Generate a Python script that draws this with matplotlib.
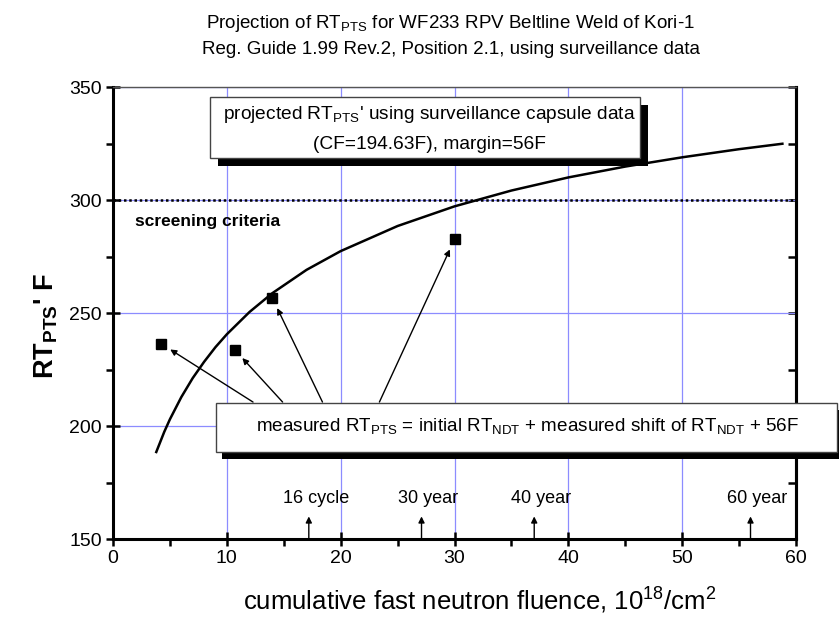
import matplotlib
matplotlib.use("Agg")
import matplotlib.pyplot as plt
import matplotlib.patches as mpatches
from matplotlib.ticker import MultipleLocator

plt.rcParams['font.family'] = ['Liberation Sans', 'DejaVu Sans']
plt.rcParams['mathtext.fontset'] = 'custom'
plt.rcParams['mathtext.rm'] = 'Liberation Sans'
plt.rcParams['mathtext.it'] = 'Liberation Sans'
plt.rcParams['mathtext.bf'] = 'Liberation Sans:bold'
plt.rcParams['mathtext.default'] = 'regular'

# projected RT_PTS curve
fluence_curve = [3.8, 4.5, 5, 6, 7, 8, 9, 10, 12, 14, 17, 20, 25, 30, 35, 40, 45, 50, 55, 58.8]
rt_curve = [188.5, 197.4, 203.0, 212.8, 221.2, 228.4, 234.9, 240.6, 250.5, 258.8, 269.1,
            277.4, 288.5, 297.2, 304.2, 310.0, 314.8, 318.9, 322.5, 324.9]

# measured RT_PTS from surveillance capsules
fluence_meas = [4.2, 10.7, 14.0, 30.0]
rt_meas = [236.5, 233.7, 256.6, 282.6]

screening = 300

# milestones along the fluence axis
milestone_x = [17.2, 27.1, 37.0, 56.0]
milestone_labels = ["16 cycle", "30 year", "40 year", "60 year"]

# where the arrows leave the lower text box
arrow_tail_x = [12.3, 14.9, 18.4, 23.4]

fig = plt.figure(figsize=(8.39, 6.22), dpi=100)
ax = fig.add_axes([0.1347, 0.1334, 0.8141, 0.7267])

ax.set_xlim(0, 60)
ax.set_ylim(150, 350)
ax.xaxis.set_major_locator(MultipleLocator(10))
ax.xaxis.set_minor_locator(MultipleLocator(5))
ax.yaxis.set_major_locator(MultipleLocator(50))
ax.yaxis.set_minor_locator(MultipleLocator(25))

ax.grid(True, which='major', color='#8c8cff', linewidth=0.9, zorder=0)

for side in ['left', 'bottom', 'right']:
    ax.spines[side].set_linewidth(2.2)
ax.spines['top'].set_linewidth(1.0)
ax.spines['top'].set_color('#555555')

ax.tick_params(which='major', direction='inout', length=10, width=1.8, labelsize=14, pad=3)
ax.tick_params(which='minor', direction='out', length=5, width=1.8)

sec = ax.secondary_yaxis('right')
sec.yaxis.set_major_locator(MultipleLocator(50))
sec.yaxis.set_minor_locator(MultipleLocator(25))
sec.tick_params(which='both', direction='in', length=6, width=1.8, labelright=False)
sec.spines['right'].set_linewidth(2.2)

# curve, screening line, measured points
ax.plot(fluence_curve, rt_curve, color='black', linewidth=1.8, zorder=3)
ax.axhline(screening, color='black', linestyle=(0, (1, 1.1)), linewidth=1.8, zorder=3)
ax.plot(fluence_meas, rt_meas, 's', color='black', markersize=7, zorder=4)

ax.text(1.9, screening - 9.5, "screening criteria", fontsize=12.5, fontweight='bold',
        ha='left', va='center', zorder=5)

# arrows from the lower box to the measured points
box_top = 150 + 0.303 * 200
for tx, px, py in zip(arrow_tail_x, fluence_meas, rt_meas):
    ax.annotate('', xy=(px, py), xytext=(tx, box_top),
                arrowprops=dict(arrowstyle='-|>', color='black', lw=1.0,
                                mutation_scale=9, shrinkA=0, shrinkB=8),
                zorder=4)

# milestone arrows on the fluence axis
for mx, lab in zip(milestone_x, milestone_labels):
    ax.annotate('', xy=(mx, 160), xytext=(mx, 150),
                arrowprops=dict(arrowstyle='-|>', color='black', lw=1.0,
                                mutation_scale=9, shrinkA=0, shrinkB=0),
                zorder=4)
    ax.text(mx + 0.6, 168, lab, fontsize=13, ha='center', va='center', zorder=4)


def shadow_box(x0, y0, x1, y1, dx, dy):
    # black drop shadow then white box, in axes fraction
    ax.add_patch(mpatches.Rectangle((x0 + dx, y0 - dy), x1 - x0, y1 - y0,
                                    transform=ax.transAxes, facecolor='black',
                                    edgecolor='none', clip_on=False, zorder=6))
    ax.add_patch(mpatches.Rectangle((x0, y0), x1 - x0, y1 - y0,
                                    transform=ax.transAxes, facecolor='white',
                                    edgecolor='#444444', linewidth=1.0,
                                    clip_on=False, zorder=7))


shadow_box(0.142, 0.843, 0.772, 0.978, 0.0117, 0.018)
ax.text(0.464, 0.940, "projected RT$_{PTS}$' using surveillance capsule data",
        transform=ax.transAxes, fontsize=13.8, ha='center', va='center', zorder=8)
ax.text(0.464, 0.872, "(CF=194.63F), margin=56F",
        transform=ax.transAxes, fontsize=13.8, ha='center', va='center', zorder=8)

shadow_box(0.151, 0.192, 1.06, 0.301, 0.009, 0.016)
ax.text(0.607, 0.250,
        "measured RT$_{PTS}$ = initial RT$_{NDT}$ + measured shift of RT$_{NDT}$ + 56F",
        transform=ax.transAxes, fontsize=13.6, ha='center', va='center', zorder=8)

ax.set_xlabel("cumulative fast neutron fluence, 10$^{18}$/cm$^{2}$", fontsize=18.5)
ax.xaxis.set_label_coords(0.537, -0.104)
ax.set_ylabel("RT$_{PTS}$' F", fontsize=19.5, fontweight='bold')
ax.yaxis.set_label_coords(-0.078, 0.47)

fig.text(0.537, 0.963, "Projection of RT$_{PTS}$ for WF233 RPV Beltline Weld of Kori-1",
         fontsize=13.5, ha='center', va='center')
fig.text(0.537, 0.920, "Reg. Guide 1.99 Rev.2, Position 2.1, using surveillance data",
         fontsize=13.5, ha='center', va='center')

fig.savefig("out.png", dpi=100)
